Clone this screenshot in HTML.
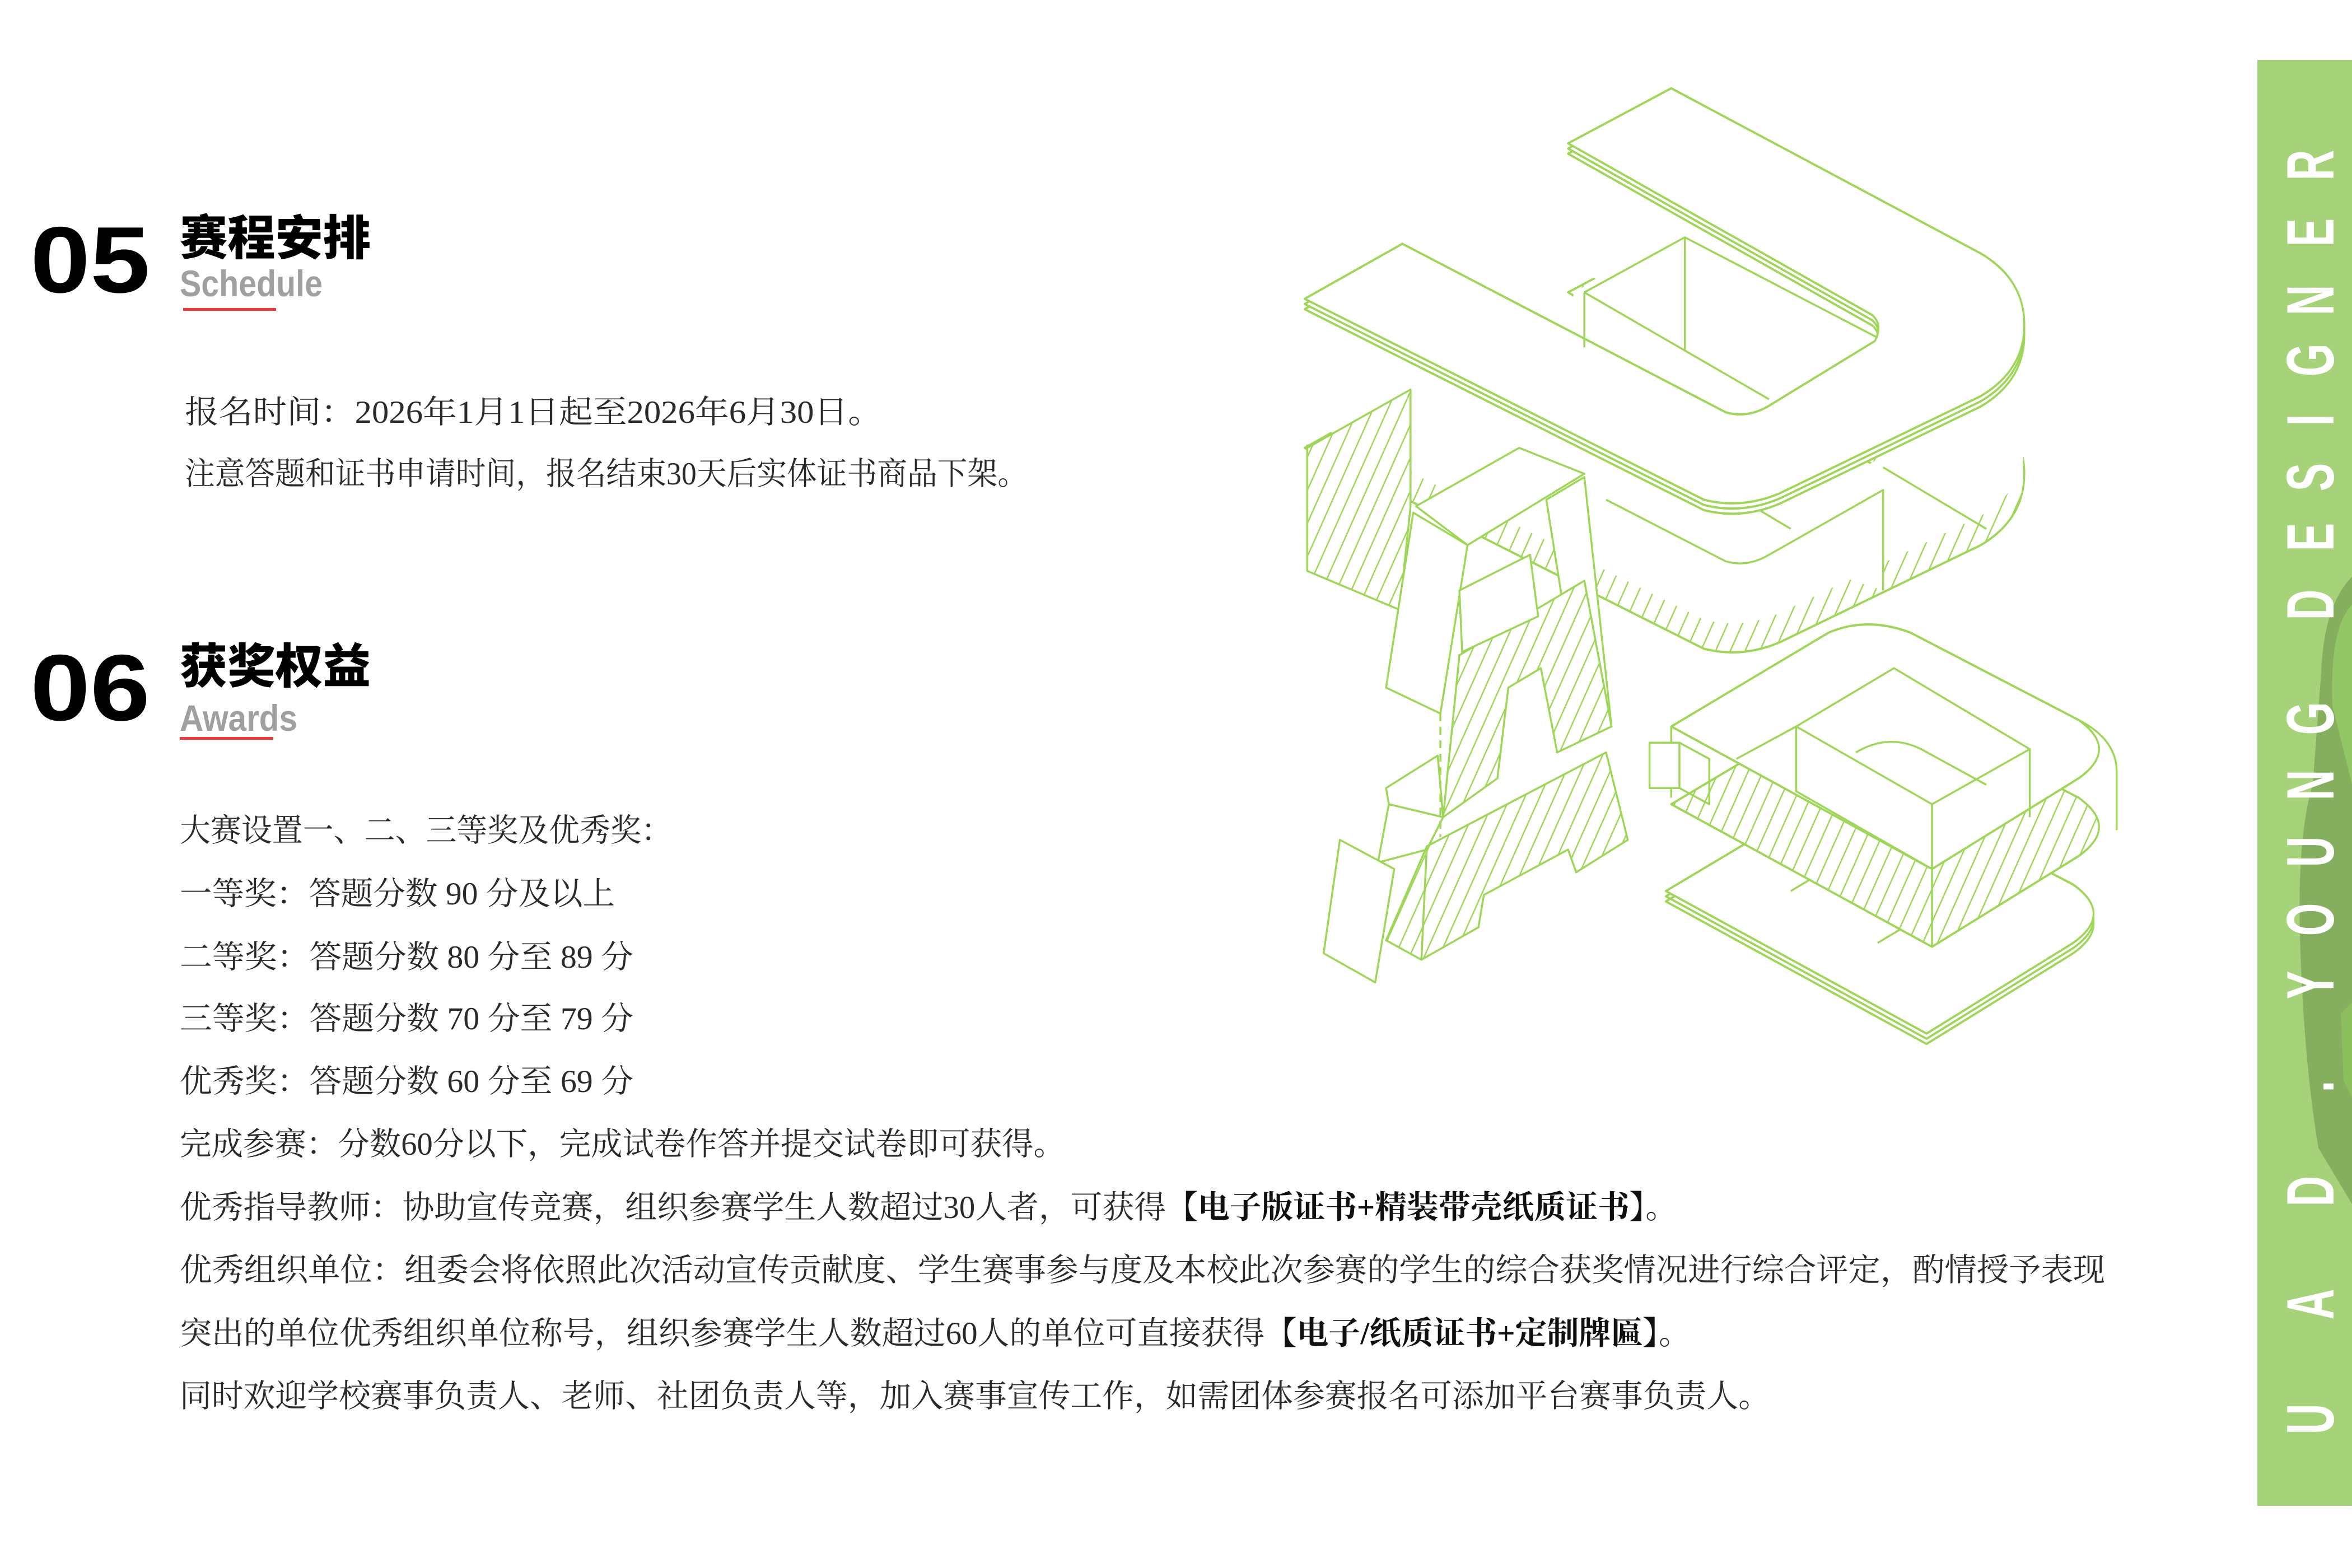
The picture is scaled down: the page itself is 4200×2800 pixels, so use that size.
<!DOCTYPE html>
<html><head><meta charset="utf-8"><style>
html,body{margin:0;padding:0;background:#fff;width:4200px;height:2800px;overflow:hidden}
svg{display:block}
.b{font-family:"Liberation Serif","Noto Serif CJK SC",serif;font-size:57px;fill:#2a2a2a}
.bb{font-weight:bold;fill:#111}
.h{font-family:"Liberation Sans","Noto Sans CJK SC",sans-serif;font-weight:900;fill:#000}
.g{fill:none;stroke:#9fd65a;stroke-width:3.5;stroke-linejoin:round;vector-effect:non-scaling-stroke}
.w{fill:#fff;stroke:#9fd65a;stroke-width:3.5;stroke-linejoin:round;vector-effect:non-scaling-stroke}
.hz{fill:url(#hatch);stroke:#9fd65a;stroke-width:3.5;stroke-linejoin:round;vector-effect:non-scaling-stroke}
.lt{font-family:"Liberation Sans",sans-serif;font-weight:bold;font-size:120px;fill:#fff}
</style></head><body>
<svg width="4200" height="2800" viewBox="0 0 4200 2800" xmlns="http://www.w3.org/2000/svg">
<defs>
<pattern id="hatch" patternUnits="userSpaceOnUse" width="24" height="24" patternTransform="rotate(28)">
<rect width="24" height="24" fill="#fff"/><line x1="0" y1="0" x2="0" y2="24" stroke="#9fd65a" stroke-width="5"/>
</pattern>
<path id="U" d="M45,380 L225,295 L820,555 Q860,565 900,545 L1095,445 Q1110,420 1090,405 L530,140 L720,55 L1290,310 Q1370,350 1370,420 Q1370,490 1290,530 L920,680 Q850,705 780,690 Z"/>
<path id="D" d="M720,1040 L1010,895 Q1080,870 1160,895 L1470,1030 Q1545,1075 1470,1120 L1200,1260 Z"/>
</defs>

<text class="h" x="54" y="522" font-size="168" textLength="214" lengthAdjust="spacingAndGlyphs">05</text>
<text class="h" x="321" y="455" font-size="85" textLength="341" lengthAdjust="spacingAndGlyphs">赛程安排</text>
<text x="321" y="529" font-family="Liberation Sans, sans-serif" font-weight="bold" font-size="66" fill="#a0a0a0" textLength="255" lengthAdjust="spacingAndGlyphs">Schedule</text>
<rect x="327" y="550" width="166" height="5" fill="#f0393c"/>

<text class="b" x="330" y="755" font-size="56" textLength="1245" lengthAdjust="spacingAndGlyphs">报名时间：2026年1月1日起至2026年6月30日。</text>
<text class="b" x="330" y="865" font-size="56" textLength="1505" lengthAdjust="spacingAndGlyphs">注意答题和证书申请时间，报名结束30天后实体证书商品下架。</text>

<text class="h" x="54" y="1286" font-size="168" textLength="214" lengthAdjust="spacingAndGlyphs">06</text>
<text class="h" x="321" y="1220" font-size="85" textLength="341" lengthAdjust="spacingAndGlyphs">获奖权益</text>
<text x="321" y="1305" font-family="Liberation Sans, sans-serif" font-weight="bold" font-size="66" fill="#a0a0a0" textLength="210" lengthAdjust="spacingAndGlyphs">Awards</text>
<rect x="321" y="1316" width="167" height="5" fill="#f0393c"/>

<text class="b" x="321" y="1502" textLength="879" lengthAdjust="spacingAndGlyphs">大赛设置一、二、三等奖及优秀奖：</text>
<text class="b" x="321" y="1615" textLength="777" lengthAdjust="spacingAndGlyphs">一等奖：答题分数 90 分及以上</text>
<text class="b" x="321" y="1728" textLength="810" lengthAdjust="spacingAndGlyphs">二等奖：答题分数 80 分至 89 分</text>
<text class="b" x="321" y="1838" textLength="810" lengthAdjust="spacingAndGlyphs">三等奖：答题分数 70 分至 79 分</text>
<text class="b" x="321" y="1950" textLength="810" lengthAdjust="spacingAndGlyphs">优秀奖：答题分数 60 分至 69 分</text>
<text class="b" x="321" y="2062" textLength="1581" lengthAdjust="spacingAndGlyphs">完成参赛：分数60分以下，完成试卷作答并提交试卷即可获得。</text>
<text class="b" x="321" y="2175" textLength="2674" lengthAdjust="spacingAndGlyphs">优秀指导教师：协助宣传竞赛，组织参赛学生人数超过30人者，可获得<tspan class="bb">【电子版证书+精装带壳纸质证书】</tspan>。</text>
<text class="b" x="321" y="2287" textLength="3438" lengthAdjust="spacingAndGlyphs">优秀组织单位：组委会将依照此次活动宣传贡献度、学生赛事参与度及本校此次参赛的学生的综合获奖情况进行综合评定，酌情授予表现</text>
<text class="b" x="321" y="2400" textLength="2698" lengthAdjust="spacingAndGlyphs">突出的单位优秀组织单位称号，组织参赛学生人数超过60人的单位可直接获得<tspan class="bb">【电子/纸质证书+定制牌匾】</tspan>。</text>
<text class="b" x="321" y="2512" textLength="2840" lengthAdjust="spacingAndGlyphs">同时欢迎学校赛事负责人、老师、社团负责人等，加入赛事宣传工作，如需团体参赛报名可添加平台赛事负责人。</text>

<g transform="translate(2286,94) scale(0.97,1.157)">
  <use href="#D" class="w" transform="translate(-10,270)"/>
  <use href="#D" class="g" transform="translate(-10,262)"/>
  <use href="#D" class="w" transform="translate(-10,254)"/>
  <path class="g" d="M940,1294 L990,1269 L1150,1349 L1100,1374"/>

  <use href="#U" class="hz" transform="translate(0,230)"/>
  <use href="#U" fill="#fff" transform="translate(0,185)"/>
  <path class="w" d="M600,690 L820,785 Q860,795 900,775 L1110,675 L1110,830"/>
  <path class="g" d="M1110,640 L1300,735 M870,700 L940,735 M240,520 L240,700 M50,605 L50,800"/>

  <path fill="#fff" d="M540,370 L745,275 L1110,440 L900,560 L540,460 Z"/>
  <use href="#U" class="w" transform="translate(0,16)"/>
  <use href="#U" class="w" transform="translate(0,8)"/>
  <use href="#U" class="w"/>
  <path fill="#fff" d="M562,372 L745,288 L1085,438 L895,540 Q860,556 822,548 L562,440 Z"/>
  <path class="g" d="M560,370 L745,285 L1100,440 M745,285 L745,460 M560,370 L560,455 M560,370 L900,535"/>

  <use href="#D" class="hz" transform="translate(0,120)"/>
  <use href="#D" class="w"/>
  <path class="g" d="M1470,1030 Q1540,1060 1540,1110 L1540,1200 M720,1040 L720,1150"/>
  <path class="w" d="M950,1040 L1130,950 L1380,1075 L1200,1160 Z"/>
  <path class="g" d="M950,1040 L950,1140 L1200,1260 M1200,1160 L1200,1380 M1380,1075 L1380,1180 M840,1090 L950,1040"/>
  <path class="g" d="M1060,1080 Q1120,1050 1180,1075 L1300,1130"/>

  <path class="hz" d="M50,610 L240,520 L240,700 L220,860 L50,800 Z"/>
  <path class="w" d="M250,700 L440,610 L560,650 L345,760 Z"/>
  <path class="w" d="M195,980 L245,710 L345,760 L295,1020 Z"/>
  <path class="w" d="M490,690 L560,655 L610,1040 L560,1060 Z"/>
  <path class="w" d="M195,1135 L290,1085 L300,1180 L200,1160 Z"/>
  <path class="w" d="M180,1250 L200,1160 L300,1180 L270,1230 Z"/>
  <path class="hz" d="M300,1180 L330,930 L560,815 L610,1040 L510,1080 L480,950 L420,980 L400,1120 Z"/>
  <path class="hz" d="M260,1400 L270,1225 L600,1080 L640,1215 L545,1265 L530,1230 L375,1300 L365,1350 Z"/>
  <path class="hz" d="M195,1370 L270,1225 L260,1400 Z"/>
  <path class="w" d="M330,830 L460,775 L475,870 L335,925 Z"/>
  <path class="g" d="M295,1020 L295,1210" stroke-dasharray="14 10"/>
  <path class="w" d="M80,1390 L110,1215 L210,1260 L175,1435 Z"/>
  <path class="w" d="M680,1065 L735,1065 L735,1135 L680,1135 Z"/>
  <path class="g" d="M735,1065 L790,1090 L790,1160 L735,1135"/>
</g>

<rect x="4031" y="107" width="169" height="2582" fill="#a6d27a"/>
<path d="M4200,1030 Q4150,1080 4145,1200 L4130,1400 Q4100,1500 4108,1700 Q4115,1900 4140,2050 L4200,2150 Z" fill="#7fa85a" opacity="0.85"/>
<path d="M4200,1080 Q4160,1120 4165,1260 L4200,1400 Z" fill="#93c765"/>
<path d="M4180,1810 L4200,1790 L4200,1960 L4185,1930 Z" fill="#8cbf5c"/>

<g class="lt">
<text transform="translate(4167,2534) rotate(-90) scale(0.63,1)" text-anchor="middle">U</text>
<text transform="translate(4167,2329) rotate(-90) scale(0.63,1)" text-anchor="middle">A</text>
<text transform="translate(4167,2127) rotate(-90) scale(0.63,1)" text-anchor="middle">D</text>
<text transform="translate(4167,1940) rotate(-90) scale(0.63,1)" text-anchor="middle">.</text>
<text transform="translate(4167,1759) rotate(-90) scale(0.63,1)" text-anchor="middle">Y</text>
<text transform="translate(4167,1642) rotate(-90) scale(0.63,1)" text-anchor="middle">O</text>
<text transform="translate(4167,1521) rotate(-90) scale(0.63,1)" text-anchor="middle">U</text>
<text transform="translate(4167,1402) rotate(-90) scale(0.63,1)" text-anchor="middle">N</text>
<text transform="translate(4167,1283) rotate(-90) scale(0.63,1)" text-anchor="middle">G</text>
<text transform="translate(4167,1080) rotate(-90) scale(0.63,1)" text-anchor="middle">D</text>
<text transform="translate(4167,959) rotate(-90) scale(0.63,1)" text-anchor="middle">E</text>
<text transform="translate(4167,852) rotate(-90) scale(0.63,1)" text-anchor="middle">S</text>
<text transform="translate(4167,750) rotate(-90) scale(0.63,1)" text-anchor="middle">I</text>
<text transform="translate(4167,643) rotate(-90) scale(0.63,1)" text-anchor="middle">G</text>
<text transform="translate(4167,536) rotate(-90) scale(0.63,1)" text-anchor="middle">N</text>
<text transform="translate(4167,415) rotate(-90) scale(0.63,1)" text-anchor="middle">E</text>
<text transform="translate(4167,295) rotate(-90) scale(0.63,1)" text-anchor="middle">R</text>
</g>
</svg>
</body></html>
